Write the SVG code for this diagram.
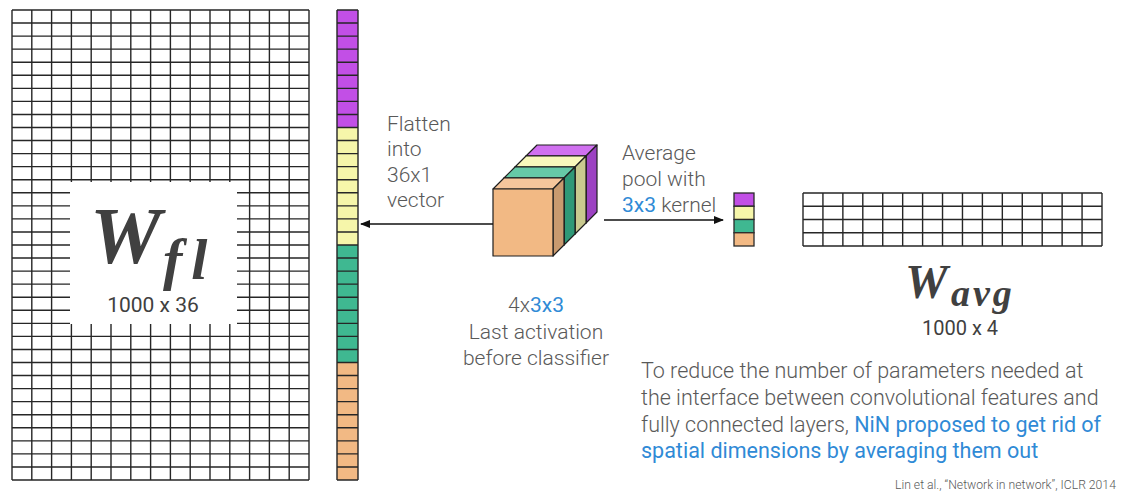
<svg xmlns="http://www.w3.org/2000/svg" width="1135" height="492" viewBox="0 0 1135 492">
  <style>
    .grid { fill: none; stroke: #262626; stroke-width: 1.4; }
    .cell { stroke: #2a2a2a; stroke-width: 1.3; }
    .edge { stroke: #1e1e1e; stroke-width: 1.2; stroke-linejoin: round; }
    .lbl { font-family: Roboto, "Liberation Sans", sans-serif; font-weight: 300; font-size: 21px; fill: #595959; }
    .note { font-size: 21.5px; }
    .dim { font-family: Roboto, "Liberation Sans", sans-serif; font-weight: 400; fill: #404040; }
    .math { font-family: "Liberation Serif", "DejaVu Serif", serif; font-weight: bold; font-style: italic; fill: #404040; }
    .blue { fill: #2f8ad6; font-weight: 400; }
    .cite { font-family: Roboto, "Liberation Sans", sans-serif; font-weight: 300; font-size: 12.2px; fill: #595959; }
    .conn { stroke: #111; stroke-width: 1.3; fill: none; }
  </style>
  <defs>
    <marker id="arrow" markerWidth="10" markerHeight="8" refX="9" refY="4" orient="auto" markerUnits="userSpaceOnUse">
      <path d="M0 0L10 4L0 8Z" fill="#111"/>
    </marker>
  </defs>
  <rect width="1135" height="492" fill="#ffffff"/>

  <!-- weight matrix for the flattened features: 15 x 36 grid -->
  <g id="w-fl">
    <path class="grid" d="M12 10V480M31.8 10V480M51.6 10V480M71.4 10V480M91.2 10V480M111 10V480M130.8 10V480M150.6 10V480M170.4 10V480M190.2 10V480M210 10V480M229.8 10V480M249.6 10V480M269.4 10V480M289.2 10V480M309 10V480
      M12 10H309M12 23.06H309M12 36.11H309M12 49.17H309M12 62.22H309M12 75.28H309M12 88.33H309M12 101.39H309M12 114.44H309M12 127.5H309M12 140.56H309M12 153.61H309M12 166.67H309M12 179.72H309M12 192.78H309M12 205.83H309M12 218.89H309M12 231.94H309M12 245H309M12 258.06H309M12 271.11H309M12 284.17H309M12 297.22H309M12 310.28H309M12 323.33H309M12 336.39H309M12 349.44H309M12 362.5H309M12 375.56H309M12 388.61H309M12 401.67H309M12 414.72H309M12 427.78H309M12 440.83H309M12 453.89H309M12 466.94H309M12 480H309"/>
    <rect x="70" y="182" width="167" height="142" fill="#ffffff"/>
    <text class="math" x="90" y="263" font-size="80">W</text>
    <text class="math" x="163" y="279" font-size="58" letter-spacing="9">fl</text>
    <text class="dim" x="153" y="312" font-size="21" text-anchor="middle">1000 x 36</text>
  </g>

  <!-- flattened 36x1 vector -->
  <g id="flat-vector">
    <rect x="337" y="10" width="21" height="117.5" fill="#c24fe6"/>
    <rect x="337" y="127.5" width="21" height="117.5" fill="#f6f6aa"/>
    <rect x="337" y="245" width="21" height="117.5" fill="#3fb891"/>
    <rect x="337" y="362.5" width="21" height="117.5" fill="#f2b984"/>
    <path class="grid" d="M337 10V480M358 10V480
      M337 10H358M337 23.06H358M337 36.11H358M337 49.17H358M337 62.22H358M337 75.28H358M337 88.33H358M337 101.39H358M337 114.44H358M337 127.5H358M337 140.56H358M337 153.61H358M337 166.67H358M337 179.72H358M337 192.78H358M337 205.83H358M337 218.89H358M337 231.94H358M337 245H358M337 258.06H358M337 271.11H358M337 284.17H358M337 297.22H358M337 310.28H358M337 323.33H358M337 336.39H358M337 349.44H358M337 362.5H358M337 375.56H358M337 388.61H358M337 401.67H358M337 414.72H358M337 427.78H358M337 440.83H358M337 453.89H358M337 466.94H358M337 480H358"/>
  </g>

  <g id="flatten-label">
    <text class="lbl" x="387" y="131">Flatten</text>
    <text class="lbl" x="387" y="156">into</text>
    <text class="lbl" x="387" y="182">36x1</text>
    <text class="lbl" x="387" y="207">vector</text>
  </g>

  <!-- last activation volume: 4 slices of 3x3, drawn back to front -->
  <g id="activation">
    <!-- purple slice -->
    <path class="edge" d="M526 156L537 145H597L586 156Z" fill="#d070f0"/>
    <path class="edge" d="M586 156L597 145V212L586 223Z" fill="#9c42c2"/>
    <rect class="edge" x="526" y="156" width="60" height="67" fill="#c24fe6"/>
    <!-- yellow slice -->
    <path class="edge" d="M515 167L526 156H586L575 167Z" fill="#f8f8bc"/>
    <path class="edge" d="M575 167L586 156V223L575 234Z" fill="#c9c98f"/>
    <rect class="edge" x="515" y="167" width="60" height="67" fill="#f6f6aa"/>
    <!-- green slice -->
    <path class="edge" d="M504 178L515 167H575L564 178Z" fill="#66c9a7"/>
    <path class="edge" d="M564 178L575 167V234L564 245Z" fill="#2f9877"/>
    <rect class="edge" x="504" y="178" width="60" height="67" fill="#3fb891"/>
    <!-- orange slice -->
    <path class="edge" d="M493 189L504 178H564L553 189Z" fill="#f6c69c"/>
    <path class="edge" d="M553 189L564 178V245L553 256Z" fill="#c99a6f"/>
    <rect class="edge" x="493" y="189" width="60" height="67" fill="#f2b984"/>
  </g>

  <g id="activation-label">
    <text class="lbl" x="536" y="312" text-anchor="middle">4x<tspan class="blue">3x3</tspan></text>
    <text class="lbl" x="536" y="339" text-anchor="middle">Last activation</text>
    <text class="lbl" x="536" y="365" text-anchor="middle">before classifier</text>
  </g>

  <g id="pool-label">
    <text class="lbl" x="622" y="160">Average</text>
    <text class="lbl" x="622" y="186">pool with</text>
    <text class="lbl" x="622" y="212"><tspan class="blue">3x3</tspan> kernel</text>
  </g>

  <!-- pooled 4x1 vector -->
  <g id="pooled-vector">
    <rect class="cell" x="734" y="193" width="20" height="13.25" fill="#c24fe6"/>
    <rect class="cell" x="734" y="206.25" width="20" height="13.25" fill="#f6f6aa"/>
    <rect class="cell" x="734" y="219.5" width="20" height="13.25" fill="#3fb891"/>
    <rect class="cell" x="734" y="232.75" width="20" height="13.25" fill="#f2b984"/>
  </g>

  <!-- weight matrix after averaging: 15 x 4 grid -->
  <g id="w-avg">
    <path class="grid" d="M803 193V246M822.93 193V246M842.87 193V246M862.8 193V246M882.73 193V246M902.67 193V246M922.6 193V246M942.53 193V246M962.47 193V246M982.4 193V246M1002.33 193V246M1022.27 193V246M1042.2 193V246M1062.13 193V246M1082.07 193V246M1102 193V246
      M803 193H1102M803 206.25H1102M803 219.5H1102M803 232.75H1102M803 246H1102"/>
    <text class="math" x="905" y="298" font-size="48">W</text>
    <text class="math" x="951" y="306" font-size="38" letter-spacing="3">avg</text>
    <text class="dim" x="960" y="335" font-size="20" text-anchor="middle">1000 x 4</text>
  </g>

  <g id="connectors">
    <line class="conn" x1="493" y1="224" x2="361" y2="224" marker-end="url(#arrow)"/>
    <line class="conn" x1="604" y1="220" x2="723" y2="220" marker-end="url(#arrow)"/>
  </g>

  <g id="note">
    <text class="lbl note" x="641" y="378">To reduce the number of parameters needed at</text>
    <text class="lbl note" x="641" y="405">the interface between convolutional features and</text>
    <text class="lbl note" x="641" y="432">fully connected layers, <tspan class="blue">NiN proposed to get rid of</tspan></text>
    <text class="lbl note blue" x="641" y="458">spatial dimensions by averaging them out</text>
  </g>

  <text class="cite" x="895" y="489">Lin et al., “Network in network”, ICLR 2014</text>
</svg>
